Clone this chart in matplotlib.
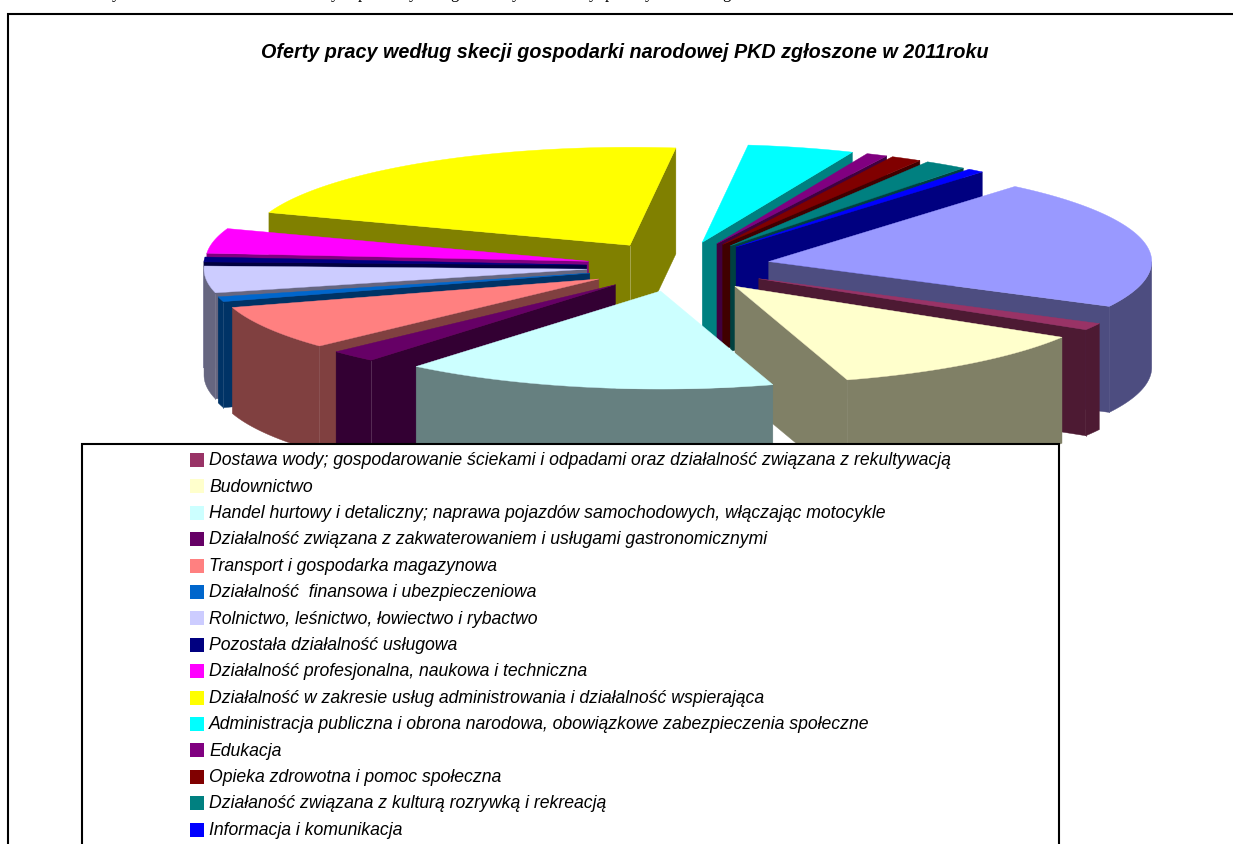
import numpy as np
from matplotlib import pyplot as plt
from matplotlib.colors import to_rgb

title = 'Oferty pracy według skecji gospodarki narodowej PKD zgłoszone w 2011roku'

# pierwszy wycinek (0) ma wpis legendy ukryty nad ramka, wiec nie ma tu etykiety
legend_labels = [
    'Dostawa wody; gospodarowanie ściekami i odpadami oraz działalność związana z rekultywacją',
    'Budownictwo',
    'Handel hurtowy i detaliczny; naprawa pojazdów samochodowych, włączając motocykle',
    'Działalność związana z zakwaterowaniem i usługami gastronomicznymi',
    'Transport i gospodarka magazynowa',
    'Działalność  finansowa i ubezpieczeniowa',
    'Rolnictwo, leśnictwo, łowiectwo i rybactwo',
    'Pozostała działalność usługowa',
    'Działalność profesjonalna, naukowa i techniczna',
    'Działalność w zakresie usług administrowania i działalność wspierająca',
    'Administracja publiczna i obrona narodowa, obowiązkowe zabezpieczenia społeczne',
    'Edukacja',
    'Opieka zdrowotna i pomoc społeczna',
    'Działaność związana z kulturą rozrywką i rekreacją',
    'Informacja i komunikacja',
]
values = [21.45, 1.15, 11.55, 15.75, 2.0, 7.3, 0.8, 4.4, 0.8, 4.1, 21.5, 4.5, 0.9, 1.3, 1.8, 0.7]
colors = ['#9999FF', '#993366', '#FFFFCC', '#CCFFFF', '#660066', '#FF8080', '#0066CC', '#CCCCFF',
          '#000080', '#FF00FF', '#FFFF00', '#00FFFF', '#800080', '#800000', '#008080', '#0000FF']

# ucięta linijka tekstu nad wykresem - widac tylko ogonki liter
cut_letters = ['y', 'y', 'p', 'y', 'g', 'y', 'y', 'p', 'y', 'g']
cut_x = [112, 331, 358, 409, 450, 512, 589, 605, 645, 722]

# geometria w pikselach obrazka
cx, cy = 678.5, 266.5
rx, ry = 383, 98
ex, ey = 92, 25
depth = 106
start = -50

fig = plt.figure(figsize=(12.33, 8.44), dpi=100)
ax = fig.add_axes([0, 0, 1, 1])
ax.set_xlim(0, 1233)
ax.set_ylim(844, 0)
ax.axis('off')

for letter, x in zip(cut_letters, cut_x):
    ax.text(x, -1.5, letter, family='Liberation Serif', fontsize=12, ha='left', va='baseline')

# ramka zewnetrzna (prawa i dolna krawedz poza obrazkiem)
ax.plot([8, 8, 1240], [850, 14, 14], color='black', lw=1.5, solid_joinstyle='miter')

ax.text(625, 53, title, family='Liberation Sans', weight='bold', style='italic',
        fontsize=14.25, ha='center', va='center')

# katy wycinkow
shares = np.array(values) / sum(values) * 360
ends = start + np.cumsum(shares)
starts = ends - shares
mids = (starts + ends) / 2


def rim(ox, oy, angle):
    a = np.radians(angle)
    return ox + rx * np.cos(a), oy + ry * np.sin(a)


def darker(color):
    return tuple(c * 0.5 for c in to_rgb(color))


def lighter(color):
    return tuple(c + (1 - c) * 0.35 for c in color)


def wall(ox, oy, angle, color):
    x, y = rim(ox, oy, angle)
    ax.fill([ox, x, x, ox], [oy, y, y + depth, oy + depth], color=color, lw=0.3, zorder=1)
    if np.sin(np.radians(angle)) > 0:
        ax.plot([x, x], [y + 1, y + depth], color=lighter(color), lw=0.6, zorder=1)


# od tylu do przodu, wszystko na tym samym zorder zeby liczyla sie kolejnosc rysowania
for i in sorted(range(len(values)), key=lambda k: np.sin(np.radians(mids[k]))):
    t0, t1 = starts[i], ends[i]
    m = np.radians(mids[i])
    ox = cx + ex * np.cos(m)
    oy = cy + ey * np.sin(m)
    side = darker(colors[i])

    show0 = np.cos(np.radians(t0)) < 0
    show1 = np.cos(np.radians(t1)) > 0
    if show0:
        wall(ox, oy, t0, side)
    if show1:
        wall(ox, oy, t1, side)
    if show0 and show1:
        ax.plot([ox, ox], [oy + 1, oy + depth], color=lighter(side), lw=0.6, zorder=1)

    # bok zewnetrzny tylko dla dolnej polowy elipsy
    for lo, hi in [(0, 180), (360, 540)]:
        a0, a1 = max(t0, lo), min(t1, hi)
        if a1 > a0:
            ts = np.linspace(a0, a1, 60)
            xs, ys = rim(ox, oy, ts)
            ax.fill(np.r_[xs, xs[::-1]], np.r_[ys, ys[::-1] + depth], color=side, lw=0.3, zorder=1)

    ts = np.linspace(t0, t1, 120)
    xs, ys = rim(ox, oy, ts)
    ax.fill(np.r_[ox, xs], np.r_[oy, ys], color=colors[i], lw=0.3, zorder=1)

# legenda zakrywa dol wykresu
ax.fill([82, 1059, 1059, 82], [444, 444, 860, 860], facecolor='white', edgecolor='black',
        lw=1.5, joinstyle='miter', zorder=5)
for i, label in enumerate(legend_labels):
    y = 460 + i * 26.4
    ax.fill([190, 204, 204, 190], [y - 7, y - 7, y + 7, y + 7], color=colors[i + 1], lw=0, zorder=6)
    ax.text(209, y + 0.8, label, family='Liberation Sans', style='italic', fontsize=12.72,
            ha='left', va='center', zorder=6)

plt.savefig('out.png', dpi=100)
